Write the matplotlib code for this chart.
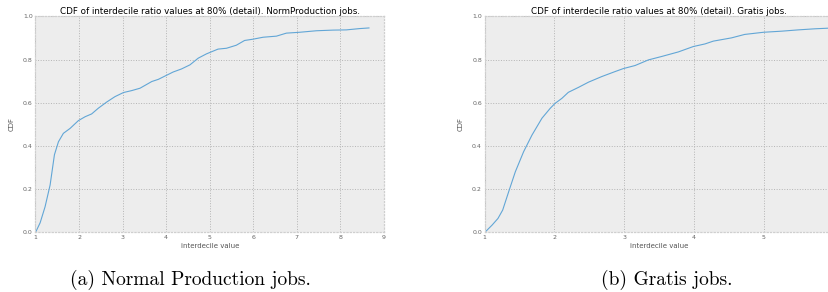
"""
CDF of interdecile ratio values (detail) for two job classes
"""
import matplotlib
matplotlib.use("Agg")
import matplotlib.pyplot as plt

# Normal production jobs
norm_x = [1.0, 1.107, 1.22, 1.336, 1.435, 1.527, 1.64, 1.795, 1.985, 2.14, 2.29, 2.44,
          2.635, 2.825, 3.02, 3.21, 3.4, 3.67, 3.82, 4.01, 4.16, 4.35, 4.545, 4.735,
          4.925, 5.19, 5.385, 5.61, 5.8, 5.995, 6.225, 6.53, 6.76, 7.065, 7.45, 7.83,
          8.135, 8.44, 8.655]
norm_cdf = [0.0, 0.045, 0.119, 0.22, 0.36, 0.42, 0.459, 0.482, 0.518, 0.536, 0.549, 0.575,
            0.604, 0.629, 0.648, 0.657, 0.668, 0.699, 0.709, 0.728, 0.743, 0.757, 0.776, 0.807,
            0.827, 0.849, 0.853, 0.867, 0.889, 0.895, 0.904, 0.909, 0.923, 0.927, 0.934, 0.937,
            0.938, 0.944, 0.947]

# Gratis jobs
gratis_x = [1.0, 1.105, 1.19, 1.258, 1.344, 1.439, 1.558, 1.678, 1.821, 1.94, 2.01, 2.107,
            2.2, 2.346, 2.489, 2.68, 2.87, 2.99, 3.157, 3.348, 3.54, 3.778, 3.993, 4.16,
            4.28, 4.54, 4.73, 5.0, 5.258, 5.496, 5.735, 5.935, 6.0]
gratis_cdf = [0.0, 0.034, 0.065, 0.104, 0.189, 0.281, 0.374, 0.451, 0.529, 0.575, 0.598, 0.621,
              0.649, 0.672, 0.696, 0.722, 0.745, 0.759, 0.773, 0.799, 0.815, 0.836, 0.861, 0.873,
              0.886, 0.901, 0.917, 0.927, 0.932, 0.938, 0.943, 0.946, 0.947]

titles = ['CDF of interdecile ratio values at 80% (detail). NormProduction jobs.',
          'CDF of interdecile ratio values at 80% (detail). Gratis jobs.']
captions = ['(a) Normal Production jobs.', '(b) Gratis jobs.']

fig = plt.figure(figsize=(8.29, 2.92), dpi=100, facecolor='w')

ax1 = fig.add_axes([0.0428, 0.2038, 0.4204, 0.7397])
ax2 = fig.add_axes([0.5847, 0.2038, 0.4204, 0.7397])


def style(ax, title, xticks):
    ax.set_facecolor('#ededed')
    for s in ax.spines.values():
        s.set_color('#cfcfcf')
        s.set_linewidth(0.9)
        s.set_linestyle(':')
    ax.grid(True, linestyle=':', color='#b4b4b4', linewidth=0.7)
    ax.set_axisbelow(True)
    ax.set_ylim(0, 1.0)
    ax.set_yticks([0.0, 0.2, 0.4, 0.6, 0.8, 1.0])
    ax.set_xticks(xticks)
    ax.tick_params(length=0, labelsize=4.5, labelcolor='#666666', pad=2)
    ax.set_title(title, fontsize=6.3, pad=2)
    ax.set_xlabel('interdecile value', fontsize=5, color='#555555', labelpad=2)
    ax.set_ylabel('CDF', fontsize=5, color='#555555', labelpad=6)


ax1.plot(norm_x, norm_cdf, color='#62a6d6', linewidth=0.8)
ax1.set_xlim(1, 9)
style(ax1, titles[0], range(1, 10))

ax2.plot(gratis_x, gratis_cdf, color='#62a6d6', linewidth=0.8)
ax2.set_xlim(1, 6)
style(ax2, titles[1], range(1, 6))

fig.text(190 / 829, 1 - 280 / 292, captions[0], fontsize=14, family='cmr10',
         ha='center', va='center')
fig.text(667 / 829, 1 - 280 / 292, captions[1], fontsize=14, family='cmr10',
         ha='center', va='center')

plt.savefig('out.png', dpi=100)
